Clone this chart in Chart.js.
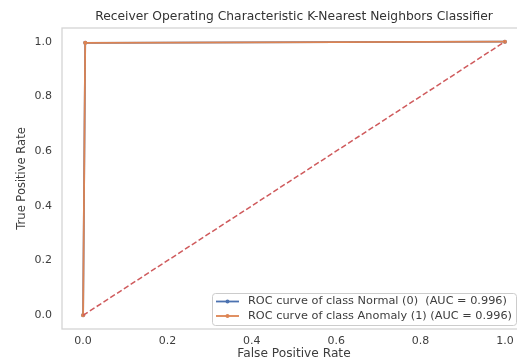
<!DOCTYPE html>
<html>
<head>
<meta charset="utf-8">
<script src="https://cdn.jsdelivr.net/npm/chart.js@4.4.1/dist/chart.umd.min.js"></script>
<style>
  html, body { margin: 0; padding: 0; background: #fff; }
  #wrap { width: 517px; height: 362px; overflow: hidden; position: relative; }
  canvas { display: block; }
</style>
</head>
<body>
<div id="wrap"><canvas id="roc" width="530" height="362"></canvas></div>
<script>
// ROC points per class
const classNames = ['Normal (0) ', 'Anomaly (1)'];
const aucValues = [0.996, 0.996];
const fprNormal = [0.0, 0.005, 1.0];
const tprNormal = [0.0, 0.996, 1.0];
const fprAnomaly = [0.0, 0.005, 1.0];
const tprAnomaly = [0.0, 0.996, 1.0];
// chance line
const chanceX = [0.0, 1.0];
const chanceY = [0.0, 1.0];
// axis ticks
const xTicks = [0.0, 0.2, 0.4, 0.6, 0.8, 1.0];
const yTicks = [0.0, 0.2, 0.4, 0.6, 0.8, 1.0];

const chartTitle = 'Receiver Operating Characteristic K-Nearest Neighbors Classifier';
const FONT = "'DejaVu Sans', 'Liberation Sans', sans-serif";
const TEXT = '#3d3d3d';

const toPoints = (xs, ys) => xs.map((x, i) => ({ x: x, y: ys[i] }));

const blue = '#4c72b0';
const orange = '#dd8452';
const red = '#cf5a5c';

const datasets = [
  {
    label: `ROC curve of class ${classNames[0]} (AUC = ${aucValues[0].toFixed(3)})`,
    data: toPoints(fprNormal, tprNormal),
    borderColor: blue, backgroundColor: blue,
    borderWidth: 1.8, pointRadius: 2, pointBorderWidth: 0,
    order: 3
  },
  {
    label: `ROC curve of class ${classNames[1]} (AUC = ${aucValues[1].toFixed(3)})`,
    data: toPoints(fprAnomaly, tprAnomaly),
    borderColor: orange, backgroundColor: orange,
    borderWidth: 1.8, pointRadius: 2, pointBorderWidth: 0,
    order: 2
  },
  {
    label: 'chance',
    data: toPoints(chanceX, chanceY),
    borderColor: red, borderWidth: 1.5, borderDash: [5.5, 2.6],
    pointRadius: 0,
    order: 1
  }
];

// frame, title and legend drawn around the plot area
const decorations = {
  id: 'decorations',
  beforeDatasetsDraw(chart) {
    const { ctx, chartArea: a } = chart;
    ctx.save();
    ctx.strokeStyle = '#d4d4d4';
    ctx.lineWidth = 1.3;
    ctx.strokeRect(a.left, a.top, a.right - a.left, a.bottom - a.top);
    ctx.restore();
  },
  afterDraw(chart) {
    const { ctx, chartArea: a } = chart;
    ctx.save();
    // title
    ctx.font = `12.3px ${FONT}`;
    ctx.fillStyle = '#333';
    ctx.textAlign = 'center';
    ctx.textBaseline = 'middle';
    ctx.fillText(chartTitle, (a.left + a.right) / 2, 17);

    // legend, lower right
    const items = chart.data.datasets.slice(0, 2);
    ctx.font = `11.3px ${FONT}`;
    const textW = Math.max(...items.map(d => ctx.measureText(d.label).width));
    const boxRight = a.right - 10;
    const boxW = textW + 40;
    const boxLeft = boxRight - boxW;
    const boxBottom = a.bottom - 4;
    const boxTop = boxBottom - 32;
    ctx.fillStyle = 'rgba(255,255,255,0.85)';
    ctx.strokeStyle = '#cccccc';
    ctx.lineWidth = 1;
    ctx.beginPath();
    ctx.roundRect(boxLeft + 0.5, boxTop + 0.5, boxW, boxBottom - boxTop, 3);
    ctx.fill();
    ctx.stroke();
    items.forEach((d, i) => {
      const y = boxTop + 8.5 + i * 14.5;
      ctx.strokeStyle = d.borderColor;
      ctx.lineWidth = 1.8;
      ctx.beginPath();
      ctx.moveTo(boxLeft + 4, y);
      ctx.lineTo(boxLeft + 27, y);
      ctx.stroke();
      ctx.fillStyle = d.borderColor;
      ctx.beginPath();
      ctx.arc(boxLeft + 15.5, y, 2, 0, Math.PI * 2);
      ctx.fill();
      ctx.fillStyle = TEXT;
      ctx.textAlign = 'left';
      ctx.textBaseline = 'middle';
      ctx.fillText(d.label, boxLeft + 36, y);
    });
    ctx.restore();
  }
};

new Chart(document.getElementById('roc'), {
  type: 'line',
  data: { datasets },
  plugins: [decorations],
  options: {
    responsive: false,
    animation: false,
    devicePixelRatio: 1,
    layout: { padding: { top: 28, right: 4, bottom: 0, left: 0 } },
    plugins: { legend: { display: false }, tooltip: { enabled: false } },
    scales: {
      x: {
        type: 'linear',
        min: -0.05, max: 1.05,
        grid: { display: false, drawTicks: false },
        border: { display: false },
        afterBuildTicks: s => { s.ticks = xTicks.map(v => ({ value: v })); },
        afterFit: s => { s.height = 33; },
        ticks: {
          padding: 6, color: TEXT, font: { family: FONT, size: 11 },
          maxRotation: 0, autoSkip: false,
          callback: v => Number(v).toFixed(1)
        },
        title: {
          display: true, text: 'False Positive Rate', color: TEXT,
          font: { family: FONT, size: 12.2 }, padding: { top: 0, bottom: 0.5 }
        }
      },
      y: {
        type: 'linear',
        min: -0.05, max: 1.05,
        grid: { display: false, drawTicks: false },
        border: { display: false },
        afterBuildTicks: s => { s.ticks = yTicks.map(v => ({ value: v })); },
        afterFit: s => { s.width = 62; },
        ticks: {
          padding: 10, color: TEXT, font: { family: FONT, size: 11 },
          autoSkip: false,
          callback: v => Number(v).toFixed(1)
        },
        title: {
          display: true, text: 'True Positive Rate', color: TEXT,
          font: { family: FONT, size: 11.5 }, padding: { top: 15, bottom: 0 }
        }
      }
    }
  }
});
</script>
</body>
</html>
